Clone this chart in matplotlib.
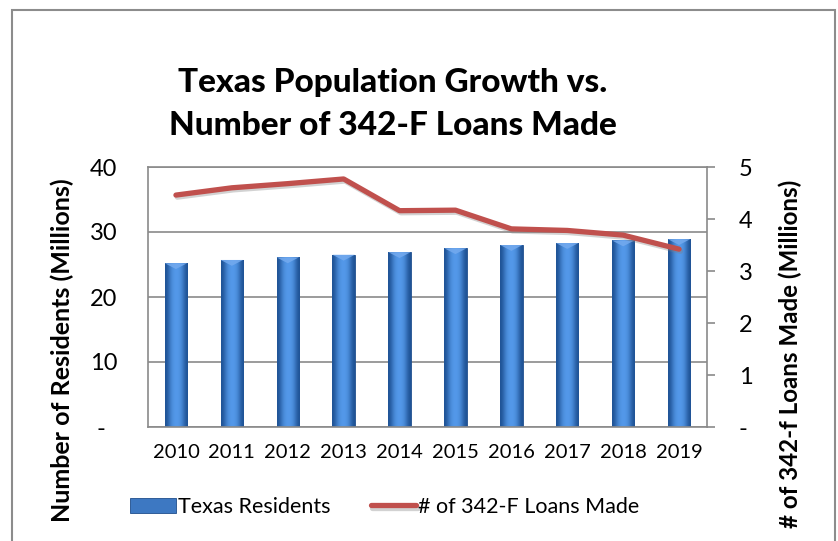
import numpy as np
import matplotlib
matplotlib.use("Agg")
import matplotlib.pyplot as plt
from matplotlib.patches import Rectangle, Polygon
import matplotlib.patheffects as pe

plt.rcParams['font.family'] = ['Lato', 'DejaVu Sans']

years = ['2010', '2011', '2012', '2013', '2014', '2015', '2016', '2017', '2018', '2019']
residents = [25.2, 25.7, 26.1, 26.5, 26.9, 27.5, 28.0, 28.3, 28.7, 28.9]   # millions
loans = [4.46, 4.60, 4.68, 4.77, 4.16, 4.17, 3.81, 3.78, 3.69, 3.42]       # millions

left_ticks = [0, 10, 20, 30, 40]
left_labels = ['-  ', '10', '20', '30', '40']
right_ticks = [0, 1, 2, 3, 4, 5]
right_labels = ['-', '1', '2', '3', '4', '5']

grid_col = '#8a8a8a'
bar_col = '#3d78c2'
line_col = '#c0504d'

fig = plt.figure(figsize=(8.38, 5.41), dpi=100)
ax = fig.add_axes([148 / 838, 114 / 541, 559 / 838, 260 / 541])

x = np.arange(len(years))
bars = ax.bar(x, residents, width=0.4, color=bar_col, edgecolor='#1f4e8c',
              linewidth=0.6, zorder=2, label='Texas Residents')

# horizontal shading so the columns look rounded
shade = np.array([[0.0, 0.35, 0.75, 0.95, 1.0, 0.95, 0.75, 0.35, 0.0]])
cmap = matplotlib.colors.LinearSegmentedColormap.from_list('col', ['#1f5396', '#5499ea'])
for b in bars:
    bx, bw, bh = b.get_x(), b.get_width(), b.get_height()
    im = ax.imshow(shade, cmap=cmap, aspect='auto', extent=(bx, bx + bw, 0, bh),
                   interpolation='bicubic', zorder=2.1)
    im.set_clip_path(b)
    # bevelled top
    cap = 0.9
    ax.add_patch(Polygon([(bx, bh), (bx + bw, bh), (bx + bw / 2, bh - cap)],
                         closed=True, facecolor='#74aaee', edgecolor='none',
                         alpha=0.85, zorder=2.2))

ax.set_xlim(-0.5, len(years) - 0.5)
ax.set_ylim(0, 40)
ax.set_yticks(left_ticks)
ax.set_yticklabels(left_labels)
ax.set_xticks(x)
ax.set_xticklabels(years)
ax.tick_params(axis='y', length=0, pad=22, labelsize=17)
ax.tick_params(axis='x', length=0, pad=12, labelsize=14.5)
ax.yaxis.grid(True, color=grid_col, linewidth=1.2, zorder=0)
ax.set_axisbelow(True)
for s in ['left', 'bottom', 'top']:
    ax.spines[s].set_color(grid_col)
    ax.spines[s].set_linewidth(1.2)
ax.spines['right'].set_visible(False)

ax2 = ax.twinx()
ax2.plot(x, loans, color=line_col, linewidth=3.8, solid_capstyle='round',
         label='# of 342-F Loans Made', zorder=3,
         path_effects=[pe.SimpleLineShadow(offset=(1, -1.5), shadow_color='gray', alpha=0.35),
                       pe.Normal()])
ax2.set_ylim(0, 5)
ax2.set_yticks(right_ticks)
ax2.set_yticklabels(right_labels)
ax2.tick_params(axis='y', length=6, width=1.2, color=grid_col, pad=17, labelsize=17)
for s in ['left', 'bottom', 'top']:
    ax2.spines[s].set_visible(False)
ax2.spines['right'].set_color(grid_col)
ax2.spines['right'].set_linewidth(1.2)

fig.text(393 / 838, 1 - 104 / 541, 'Texas Population Growth vs.\nNumber of 342-F Loans Made',
         ha='center', va='center', fontsize=24, fontweight='black', linespacing=1.6)

fig.text(62 / 838, 1 - 350 / 541, 'Number of Residents (Millions)', rotation=90,
         ha='center', va='center', fontsize=18, fontweight='bold')
fig.text(790 / 838, 1 - 354 / 541, '# of 342-f Loans Made (Millions)', rotation=90,
         ha='center', va='center', fontsize=17.4, fontweight='bold')

h1, l1 = ax.get_legend_handles_labels()
h2, l2 = ax2.get_legend_handles_labels()
fig.legend(h1 + h2, l1 + l2, loc='center', bbox_to_anchor=(385 / 838, 34 / 541),
           ncol=2, frameon=False, fontsize=15.5, handlelength=2.1, handletextpad=0.1,
           columnspacing=1.9)

# chart area border
fig.patches.append(Rectangle((12 / 838, -0.05), 823 / 838, 1.05 - 10 / 541,
                             transform=fig.transFigure, fill=False,
                             edgecolor='#8c8c8c', linewidth=1.5))

fig.savefig('out.png', dpi=100)
